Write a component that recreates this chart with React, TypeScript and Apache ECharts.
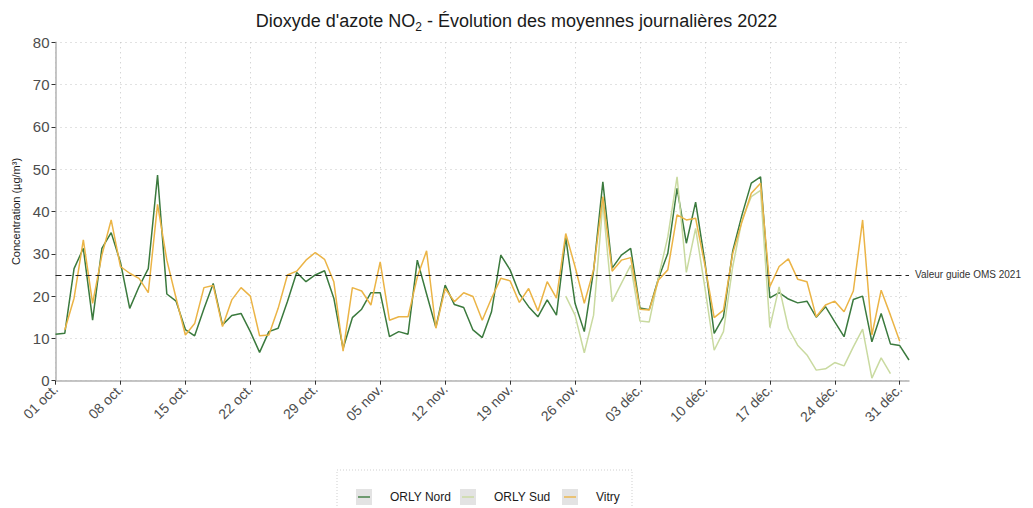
import React, { useEffect, useRef } from "react";
import * as echarts from "echarts";

const FONT = "'Liberation Sans', Arial, sans-serif";
const MONTHS_FR = ["janv.", "févr.", "mars", "avr.", "mai", "juin", "juil.", "août", "sept.", "oct.", "nov.", "déc."];
const N_DAYS = 93;
const CATEGORIES = Array.from({ length: N_DAYS }, (_, i) => {
  const d = new Date(Date.UTC(2022, 9, 1 + i));
  return `${String(d.getUTCDate()).padStart(2, "0")} ${MONTHS_FR[d.getUTCMonth()]}`;
});

const SERIES_NAMES = ["ORLY Nord", "ORLY Sud", "Vitry"];
const SERIES_COLORS = ["#3b7a3e", "#c9daa0", "#ebb446"];

const ORLY_NORD = [
  11.0, 11.2, 26.5, 31.3, 14.3, 31.3, 35.0, 28.0, 17.1, 22.2,
  26.5, 48.6, 20.5, 18.8, 12.1, 10.6, 17.0, 23.0, 13.2, 15.4,
  15.9, 11.6, 6.7, 11.6, 12.4, 18.7, 25.6, 23.4, 25.0, 26.0,
  19.5, 7.6, 14.9, 16.9, 20.8, 20.8, 10.4, 11.6, 11.0, 28.5,
  20.5, 12.6, 22.6, 18.0, 17.3, 12.0, 10.2, 16.3, 29.7, 26.2,
  20.6, 17.5, 15.1, 19.1, 15.5, 33.8, 18.3, 11.6, 26.0, 47.0,
  26.6, 29.7, 31.3, 17.2, 16.8, 24.2, 30.1, 45.5, 32.5, 42.2,
  28.1, 11.2, 15.1, 30.7, 39.2, 46.7, 48.2, 19.6, 20.8, 19.3,
  18.4, 18.8, 15.0, 17.5, 13.9, 10.4, 19.2, 20.0, 9.2, 15.9,
  8.7, 8.3, 4.9,
];

const ORLY_SUD = [
  null, null, null, null, null, null, null, null, null, null,
  null, null, null, null, null, null, null, null, null, null,
  null, null, null, null, null, null, null, null, null, null,
  null, null, null, null, null, null, null, null, null, null,
  null, null, null, null, null, null, null, null, null, null,
  null, null, null, null, null, 20.0, 15.5, 6.6, 15.5, 42.0,
  18.7, 23.0, 27.3, 14.1, 13.9, 24.5, 34.0, 48.2, 25.6, 36.0,
  22.0, 7.2, 11.6, 27.0, 38.0, 43.5, 45.0, 12.6, 22.2, 12.4,
  8.4, 6.1, 2.5, 2.8, 4.3, 3.5, 8.0, 12.2, 0.6, 5.4,
  1.7, null, null,
];

const VITRY = [
  null, 12.0, 19.5, 33.3, 18.3, 29.7, 38.0, 27.0, 25.4, 24.2,
  20.8, 41.7, 28.5, 19.5, 10.8, 13.5, 22.0, 22.5, 12.8, 19.1,
  22.0, 20.0, 10.6, 10.8, 17.1, 25.0, 25.9, 28.5, 30.3, 28.7,
  23.4, 7.0, 22.0, 21.2, 17.9, 28.1, 14.3, 15.1, 15.1, 24.5,
  30.7, 12.4, 21.8, 18.7, 20.8, 19.9, 14.3, 19.5, 24.2, 23.6,
  18.5, 21.8, 16.5, 23.4, 19.5, 34.8, 27.0, 18.3, 26.2, 43.5,
  25.9, 28.5, 29.1, 16.9, 16.7, 23.8, 26.2, 39.2, 38.0, 38.4,
  27.3, 14.9, 16.7, 30.1, 37.6, 44.3, 46.7, 22.2, 27.0, 28.8,
  24.0, 23.4, 15.1, 17.9, 18.8, 16.3, 21.2, 38.0, 10.8, 21.4,
  15.5, 9.3, null,
];

const SERIES_DATA = [ORLY_NORD, ORLY_SUD, VITRY];
const OMS_GUIDE = 25;
const OMS_LABEL = "Valeur guide OMS 2021";
const Y_MIN = 0;
const Y_MAX = 80;
const Y_INTERVAL = 10;
const TITLE = "Dioxyde d'azote NO{sub|2} - Évolution des moyennes journalières 2022";
const Y_NAME = "Concentration (µg/m³)";

const LEGEND_LEFTS = [356, 460, 562];
const LEGEND_TOP = 489;
const LEGEND_ICON = "path://M0,0L0,0M16,16L16,16M2,7.3H14V8.7H2Z";

export default function App() {
  const ref = useRef<HTMLDivElement>(null);
  useEffect(() => {
    if (!ref.current) return;
    const chart = echarts.init(ref.current, null, { renderer: "svg" });
    const axisGray = "#b3b3b3";
    const labelGray = "#4d4d4d";
    chart.setOption({
      animation: false,
      textStyle: { fontFamily: FONT },
      title: {
        text: TITLE,
        left: "center",
        top: 4,
        padding: [5, 12, 5, 0],
        textStyle: {
          fontSize: 18,
          fontWeight: "normal",
          color: "#1a1a1a",
          fontFamily: FONT,
          lineHeight: 24,
          rich: {
            sub: { fontSize: 12, verticalAlign: "bottom", color: "#1a1a1a", fontFamily: FONT },
          },
        },
      },
      grid: { left: 55.5, right: 124, top: 42.3, bottom: 127.3, containLabel: false },
      xAxis: {
        type: "category",
        data: CATEGORIES,
        boundaryGap: false,
        axisLine: { show: true, lineStyle: { color: axisGray, width: 1.5 } },
        axisTick: { show: true, interval: 6, length: 4, lineStyle: { color: "#333", width: 1 } },
        axisLabel: { interval: 6, rotate: 45, fontSize: 14, color: labelGray, margin: 6, fontFamily: FONT },
        splitLine: { show: true, interval: 6, lineStyle: { type: [1, 4], color: "#c4c4c4", width: 1 } },
      },
      yAxis: {
        type: "value",
        min: Y_MIN,
        max: Y_MAX,
        interval: Y_INTERVAL,
        name: Y_NAME,
        nameLocation: "middle",
        nameGap: 32,
        nameTextStyle: { fontSize: 11, color: "#1a1a1a", fontFamily: FONT },
        axisLine: { show: true, lineStyle: { color: axisGray, width: 1.5 } },
        axisTick: { show: true, length: 4, lineStyle: { color: "#333", width: 1 } },
        axisLabel: { fontSize: 15, color: labelGray, margin: 6, fontFamily: FONT },
        splitLine: { show: true, lineStyle: { type: [1, 4], color: "#c4c4c4", width: 1 } },
      },
      legend: SERIES_NAMES.map((name, i) => ({
        data: [name],
        left: LEGEND_LEFTS[i],
        top: LEGEND_TOP,
        padding: 0,
        itemWidth: 16,
        itemHeight: 16,
        icon: LEGEND_ICON,
        selectedMode: false,
        textStyle: { fontSize: 12, color: "#1a1a1a", fontFamily: FONT, padding: [0, 0, 0, 13] },
      })),
      graphic: [
        {
          type: "rect",
          shape: { x: 337, y: 470, width: 295, height: 50 },
          style: { fill: "none", stroke: "#cfcfcf", lineWidth: 1, lineDash: [1, 2] },
          silent: true,
        },
        ...LEGEND_LEFTS.map((x) => ({
          type: "rect",
          shape: { x, y: LEGEND_TOP, width: 16, height: 16 },
          style: { fill: "#e3e3e3" },
          z: -1,
          silent: true,
        })),
      ],
      series: SERIES_NAMES.map((name, i) => ({
        name,
        type: "line",
        data: SERIES_DATA[i],
        symbol: "none",
        connectNulls: false,
        lineStyle: { color: SERIES_COLORS[i], width: 1.5 },
        itemStyle: { color: SERIES_COLORS[i] },
        markLine:
          i === 0
            ? {
                silent: true,
                symbol: "none",
                data: [{ yAxis: OMS_GUIDE }],
                lineStyle: { type: [6, 4], color: "#222", width: 1.2 },
                label: {
                  show: true,
                  position: "end",
                  formatter: OMS_LABEL,
                  fontSize: 10,
                  color: "#333",
                  distance: 6,
                  fontFamily: FONT,
                },
              }
            : undefined,
      })),
    });
    return () => chart.dispose();
  }, []);
  return <div ref={ref} style={{ position: "absolute", left: 0, top: 0, width: 1033, height: 508 }} />;
}
